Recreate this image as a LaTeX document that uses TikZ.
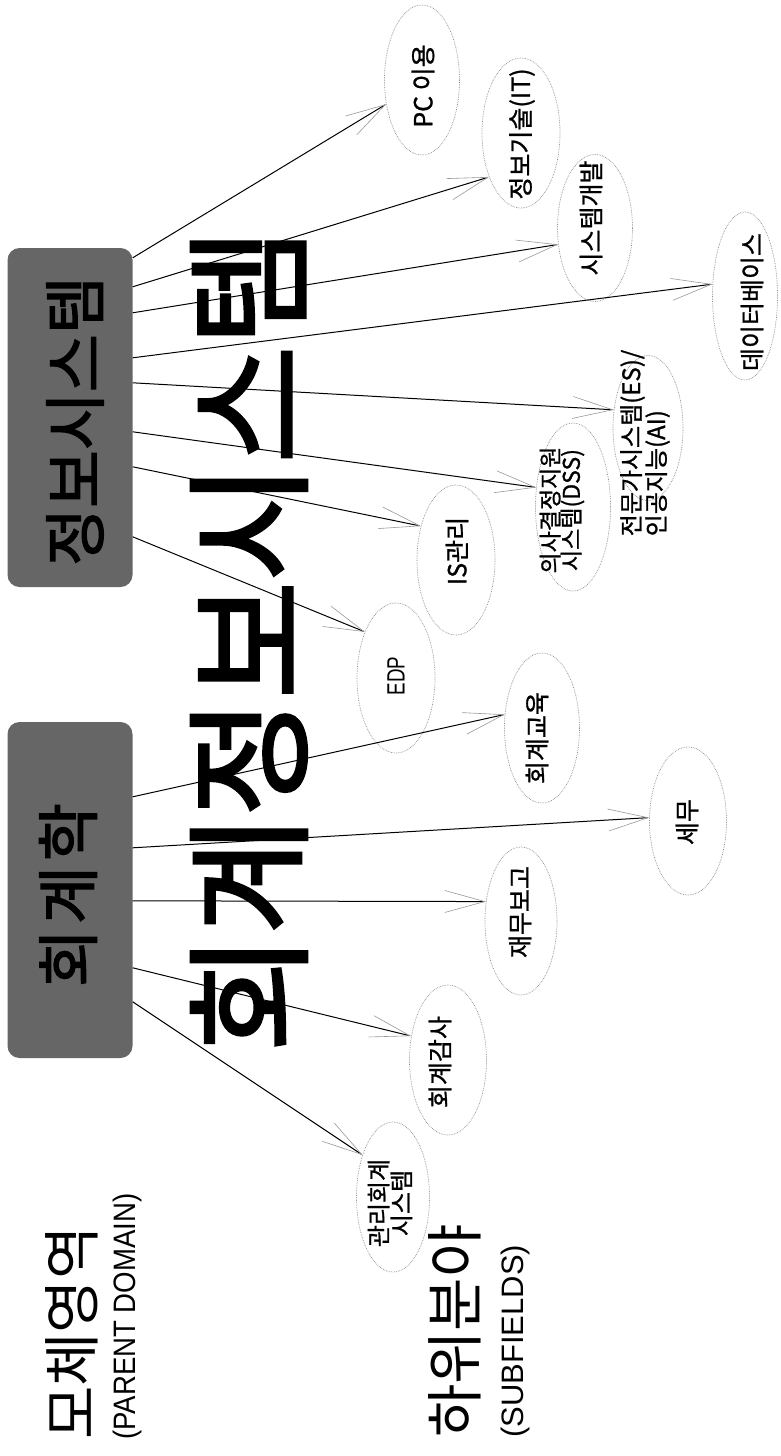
\documentclass[tikz,border=0pt]{standalone}
\usepackage{fontspec}
\setmainfont{Liberation Sans}
\newfontfamily\kr{Noto Sans CJK KR}
\newfontfamily\krtitle[FakeBold=2.2]{Noto Sans CJK KR}
\newfontfamily\krbox[FakeBold=2]{Noto Sans CJK KR}
\newfontfamily\krsub[FakeBold=1]{Noto Sans CJK KR}
\usetikzlibrary{shapes.geometric,arrows.meta,calc}
\begin{document}
\begin{tikzpicture}[x=1pt,y=-1pt,
  field/.style={ellipse, draw=black!45, densely dotted, line width=0.7pt, inner sep=0},
  ftext/.style={rotate=90, inner sep=0, align=center, font=\krsub\fontsize{25}{25}\selectfont},
  parent/.style={fill=black!60, rounded corners=12pt, inner sep=0, minimum width=125pt},
  ptext/.style={rotate=90, inner sep=0, font=\krbox\fontsize{63}{63}\selectfont},
  legend/.style={rotate=90, anchor=west, inner sep=0},
  arr/.style={line width=1pt, -{Straight Barb[length=40pt,width=22pt,line width=0.6pt,color=black!40]}},
]
\fill[white] (0,0) rectangle (781,1456);
\useasboundingbox (0,0) rectangle (781,1456);

% big title
\node[rotate=90, inner sep=0, font=\krtitle\fontsize{128}{128}\selectfont] (title) at (249,640) {회계정보시스템};

% parent domains
\node[parent, minimum height=339pt] (b1) at (70,417.5) {};
\node[parent, minimum height=336pt] (b2) at (70,890) {};
\node[ptext] (t1) at (75,421) {정보시스템};
\node[ptext] (t2) at (68,895) {회\kern5pt 계\kern5pt 학};

% subfields
\node[field, minimum width=75pt, minimum height=150pt] (pc)  at (422,80) {};
\node[field, minimum width=78pt, minimum height=150pt] (it)  at (521,133) {};
\node[field, minimum width=75pt, minimum height=147pt] (sd)  at (595,228) {};
\node[field, minimum width=65pt, minimum height=168pt] (db)  at (745,296) {};
\node[field, minimum width=70pt, minimum height=145pt] (es)  at (648,428) {};
\node[field, minimum width=75pt, minimum height=168pt] (dss) at (573,507) {};
\node[field, minimum width=78pt, minimum height=150pt] (is)  at (456,560) {};
\node[field, minimum width=78pt, minimum height=150pt] (edp) at (396,678) {};
\node[field, minimum width=75pt, minimum height=150pt] (edu) at (542,728) {};
\node[field, minimum width=77pt, minimum height=148pt] (tax) at (688,821) {};
\node[field, minimum width=72pt, minimum height=148pt] (fin) at (521,921) {};
\node[field, minimum width=77pt, minimum height=150pt] (aud) at (448,1060) {};
\node[field, minimum width=73pt, minimum height=150pt] (mac) at (393,1197) {};

\node[ftext] (pct)  at (423,86) {PC 이용};
\node[ftext] (itt)  at (522,134) {정보기술(IT)};
\node[ftext] (sdt)  at (591,218) {시스템개발};
\node[ftext] (dbt)  at (752,302) {데이터베이스};
\node[ftext, align=left, font=\krsub\fontsize{24}{25}\selectfont] (est) at (645,443) {전문가시스템(ES)/\\인공지능(AI)};
\node[ftext, font=\krsub\fontsize{23}{21}\selectfont] (dsst) at (562,510) {의사결정지원\\시스템(DSS)};
\node[ftext] (ist)  at (457,551) {IS관리};
\node[ftext, font=\fontsize{25}{25}\selectfont] (edpt) at (396,676) {\scalebox{0.75}[1]{EDP}};
\node[ftext] (edut) at (537,738) {회계교육};
\node[ftext] (taxt) at (687,822) {세무};
\node[ftext] (fint) at (520,912) {재무보고};
\node[ftext] (audt) at (440,1062) {회계감사};
\node[ftext, font=\krsub\fontsize{24}{20}\selectfont] (mact) at (390,1203) {관리회계\\시스템};

% legend
\node[legend, font=\kr\fontsize{58}{58}\selectfont] (lg1) at (72,1440) {모체영역};
\node[legend, font=\fontsize{31}{31}\selectfont] (lg2) at (127,1440) {\scalebox{0.89}[1]{(PARENT DOMAIN)}};
\node[legend, font=\kr\fontsize{58}{58}\selectfont] (lg3) at (455,1438) {하위분야};
\node[legend, font=\fontsize{31}{31}\selectfont] (lg4) at (515,1438) {(SUBFIELDS)};

% connectors
\draw[arr] ($(b1.north east)+(0,10)$)  -- (pc.214);
\draw[arr] ($(b1.north east)+(0,39)$)  -- (it.234);
\draw[arr] ($(b1.north east)+(0,65)$)  -- (sd.204);
\draw[arr] ($(b1.north east)+(0,110)$) -- (db.160);
\draw[arr] ($(b1.north east)+(0,135)$) -- (es.152);
\draw[arr] ($(b1.north east)+(0,184)$) -- (dss.152);
\draw[arr] ($(b1.north east)+(0,219)$) -- (is.136);
\draw[arr] ($(b1.north east)+(0,289)$) -- (edp.124);
\draw[arr] ($(b2.north east)+(0,75)$)  -- (edu.160);
\draw[arr] ($(b2.north east)+(0,126)$) -- (tax.175);
\draw[arr] ($(b2.north east)+(0,179)$) -- (fin.151);
\draw[arr] ($(b2.north east)+(0,246)$) -- (aud.147);
\draw[arr] ($(b2.north east)+(0,280)$) -- (mac.126);
\end{tikzpicture}
\end{document}
